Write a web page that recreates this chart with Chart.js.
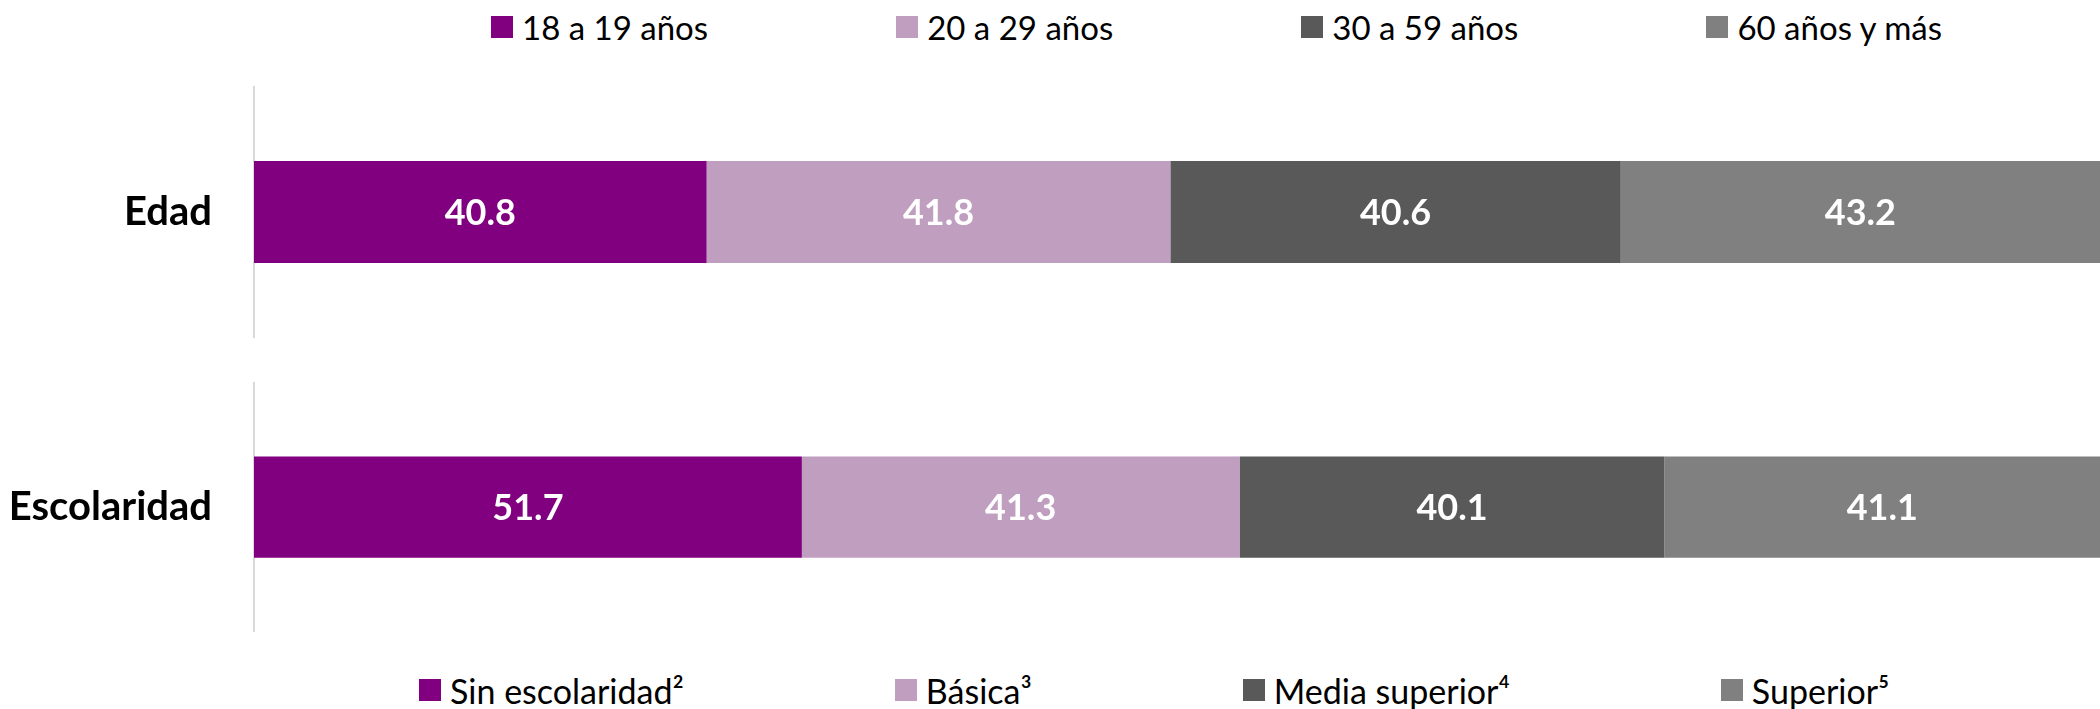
<!DOCTYPE html>
<html lang="es">
<head>
<meta charset="utf-8">
<script src="https://cdn.jsdelivr.net/npm/chart.js@4/dist/chart.umd.min.js"></script>
<style>
  html, body { margin: 0; padding: 0; background: #fff; }
  body { width: 2100px; height: 709px; position: relative; overflow: hidden; font-family: Lato, "Open Sans", sans-serif; }
  canvas { position: absolute; left: 0; display: block; }
  .legend { position: absolute; display: flex; align-items: center; height: 44px; font-size: 34px; color: #000; white-space: nowrap; }
  .legend .item { display: flex; align-items: center; }
  .legend .sw { width: 22px; height: 22px; margin-right: 9px; }
</style>
</head>
<body>
<div class="legend" id="legendTop" style="left:491px; top:5px; gap:188px; font-size:33px;"></div>
<canvas id="chartEdad" width="2100" height="252" style="top:86px; width:2100px; height:252px;"></canvas>
<canvas id="chartEsc" width="2100" height="250" style="top:382px; width:2100px; height:250px;"></canvas>
<div class="legend" id="legendBottom" style="left:419px; top:668px; gap:211px;"></div>
<script>
// Data
const colors = ['#800080', '#C09EC0', '#595959', '#808080'];

const edadLabels = ['Edad'];
const edadSeries = ['18 a 19 años', '20 a 29 años', '30 a 59 años', '60 años y más'];
const edadValues = [40.8, 41.8, 40.6, 43.2];

const escLabels = ['Escolaridad'];
const escSeries = ['Sin escolaridad²', 'Básica³', 'Media superior⁴', 'Superior⁵'];
const escValues = [51.7, 41.3, 40.1, 41.1];

// value labels in the middle of each segment
const valueLabels = {
  id: 'valueLabels',
  afterDatasetsDraw(chart) {
    const ctx = chart.ctx;
    ctx.save();
    ctx.fillStyle = '#fff';
    ctx.font = 'bold 36px Lato, "Open Sans", sans-serif';
    ctx.textAlign = 'center';
    ctx.textBaseline = 'middle';
    chart.data.datasets.forEach((ds, i) => {
      chart.getDatasetMeta(i).data.forEach((bar) => {
        const p = bar.getCenterPoint();
        ctx.fillText(ds.raw.toFixed(1), p.x, p.y + 1);
      });
    });
    ctx.restore();
  }
};

function buildLegend(id, names) {
  const el = document.getElementById(id);
  names.forEach((n, i) => {
    const item = document.createElement('div');
    item.className = 'item';
    const sw = document.createElement('span');
    sw.className = 'sw';
    sw.style.background = colors[i];
    const tx = document.createElement('span');
    tx.textContent = n;
    item.appendChild(sw);
    item.appendChild(tx);
    el.appendChild(item);
  });
}

function makeChart(canvasId, labels, series, values) {
  const total = values.reduce((a, b) => a + b, 0);
  const ctx = document.getElementById(canvasId).getContext('2d');
  return new Chart(ctx, {
    type: 'bar',
    data: {
      labels: labels,
      datasets: series.map((name, i) => ({
        label: name,
        raw: values[i],
        data: [values[i] / total * 100],
        backgroundColor: colors[i],
        borderWidth: 0,
        categoryPercentage: 1,
        barPercentage: 0.405
      }))
    },
    options: {
      indexAxis: 'y',
      responsive: false,
      devicePixelRatio: 1,
      animation: false,
      layout: { padding: 0, autoPadding: false },
      plugins: {
        legend: { display: false },
        tooltip: { enabled: false }
      },
      scales: {
        x: { stacked: true, min: 0, max: 100, display: false },
        y: {
          stacked: true,
          grid: { display: false, drawTicks: false },
          border: { display: true, color: '#D9D9D9', width: 2 },
          ticks: {
            color: '#000',
            padding: 42,
            font: { family: 'Lato, "Open Sans", sans-serif', size: 40, weight: 'bold' }
          },
          afterFit: (s) => { s.width = 254; s.paddingTop = 0; s.paddingBottom = 0; }
        }
      }
    },
    plugins: [valueLabels]
  });
}

buildLegend('legendTop', edadSeries);
buildLegend('legendBottom', escSeries);
makeChart('chartEdad', edadLabels, edadSeries, edadValues);
makeChart('chartEsc', escLabels, escSeries, escValues);
</script>
</body>
</html>
